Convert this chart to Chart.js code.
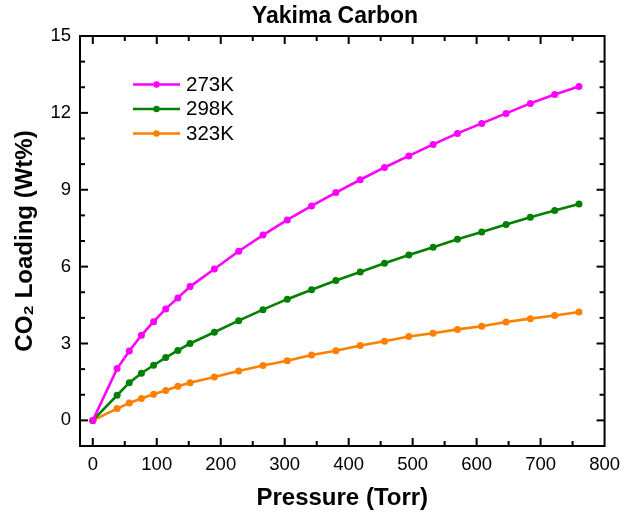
<!DOCTYPE html>
<html>
<head>
<meta charset="utf-8">
<script src="https://cdn.jsdelivr.net/npm/chart.js@4.4.1/dist/chart.umd.min.js"></script>
<style>
html,body{margin:0;padding:0;background:#ffffff;}
#wrap{width:628px;height:515px;}
</style>
</head>
<body>
<div id="wrap"><canvas id="c" width="628" height="515"></canvas></div>
<script>
// ---- data ----
const pressure = [0, 38, 57, 76, 95, 114, 133, 152, 190, 228, 266, 304, 342, 380, 418, 456, 494, 532, 570, 608, 646, 684, 722, 760];
const load273K = [0, 2.02, 2.71, 3.32, 3.85, 4.35, 4.78, 5.22, 5.91, 6.60, 7.23, 7.82, 8.37, 8.89, 9.39, 9.87, 10.32, 10.77, 11.20, 11.59, 11.98, 12.37, 12.72, 13.03];
const load298K = [0, 0.98, 1.47, 1.84, 2.15, 2.45, 2.73, 3.00, 3.44, 3.89, 4.32, 4.73, 5.10, 5.46, 5.79, 6.13, 6.45, 6.76, 7.07, 7.35, 7.64, 7.93, 8.19, 8.44];
const load323K = [0, 0.46, 0.68, 0.85, 1.02, 1.17, 1.33, 1.47, 1.69, 1.93, 2.14, 2.33, 2.55, 2.72, 2.92, 3.09, 3.27, 3.40, 3.55, 3.67, 3.84, 3.97, 4.09, 4.23];
const seriesLabels = ['273K', '298K', '323K'];
const xMajorTicks = [0, 100, 200, 300, 400, 500, 600, 700, 800];
const xMinorTicks = [50, 150, 250, 350, 450, 550, 650, 750];
const yMajorTicks = [0, 3, 6, 9, 12, 15];
const yMinorTicks = [1, 2, 4, 5, 7, 8, 10, 11, 13, 14];
const chartTitle = 'Yakima Carbon';
const xTitle = 'Pressure (Torr)';
const yTitle = 'CO\u2082 Loading (Wt%)';

// ---- styles ----
const FONT = '"Liberation Sans", Arial, Helvetica, sans-serif';
const colors = ['#FF00FF', '#008000', '#FF8000'];

function toPoints(xs, ys) { return xs.map((v, i) => ({ x: v, y: ys[i] })); }
const seriesValues = [load273K, load298K, load323K];

const datasets = seriesValues.map((vals, i) => ({
  label: seriesLabels[i],
  data: toPoints(pressure, vals),
  borderColor: colors[i],
  backgroundColor: colors[i],
  borderWidth: 2.6,
  pointRadius: 3.5,
  pointHoverRadius: 3.5,
  pointBorderWidth: 0,
  tension: 0,
  fill: false
}));

const frameTicksPlugin = {
  id: 'frameTicks',
  afterDraw(chart) {
    const { ctx, chartArea: { left, right, top, bottom }, scales: { x, y } } = chart;
    ctx.save();
    ctx.strokeStyle = '#000';
    ctx.lineWidth = 2;
    ctx.lineCap = 'butt';
    const major = 8, minor = 5;
    const vline = (px, len) => {
      ctx.beginPath(); ctx.moveTo(px, bottom); ctx.lineTo(px, bottom - len); ctx.stroke();
      ctx.beginPath(); ctx.moveTo(px, top); ctx.lineTo(px, top + len); ctx.stroke();
    };
    const hline = (py, len) => {
      ctx.beginPath(); ctx.moveTo(left, py); ctx.lineTo(left + len, py); ctx.stroke();
      ctx.beginPath(); ctx.moveTo(right, py); ctx.lineTo(right - len, py); ctx.stroke();
    };
    xMajorTicks.forEach(v => { const p = x.getPixelForValue(v); if (p > left + 1 && p < right - 1) vline(p, major); });
    xMinorTicks.forEach(v => { const p = x.getPixelForValue(v); if (p > left + 1 && p < right - 1) vline(p, minor); });
    yMajorTicks.forEach(v => { const p = y.getPixelForValue(v); if (p > top + 1 && p < bottom - 1) hline(p, major); });
    yMinorTicks.forEach(v => { const p = y.getPixelForValue(v); if (p > top + 1 && p < bottom - 1) hline(p, minor); });
    ctx.strokeRect(left, top, right - left, bottom - top);

    // title
    ctx.fillStyle = '#000';
    ctx.font = 'bold 23px ' + FONT;
    ctx.textAlign = 'center';
    ctx.textBaseline = 'middle';
    ctx.fillText(chartTitle, 335, 17);

    // legend
    chart.data.datasets.forEach((ds, i) => {
      const ly = 84.5 + i * 24.5;
      ctx.strokeStyle = ds.borderColor;
      ctx.lineWidth = 2.5;
      ctx.beginPath(); ctx.moveTo(133, ly); ctx.lineTo(180, ly); ctx.stroke();
      ctx.fillStyle = ds.backgroundColor;
      ctx.beginPath(); ctx.arc(156.5, ly, 3.2, 0, Math.PI * 2); ctx.fill();
      ctx.fillStyle = '#000';
      ctx.font = '20.5px ' + FONT;
      ctx.textAlign = 'left';
      ctx.textBaseline = 'middle';
      ctx.fillText(ds.label, 186, ly + 0.5);
    });
    ctx.restore();
  }
};

new Chart(document.getElementById('c'), {
  type: 'line',
  data: { datasets },
  options: {
    responsive: false,
    devicePixelRatio: 1,
    animation: false,
    events: [],
    layout: { padding: { top: 36, right: 20, left: 0, bottom: 0 } },
    plugins: { legend: { display: false }, title: { display: false }, tooltip: { enabled: false } },
    scales: {
      x: {
        type: 'linear',
        min: -20,
        max: 800,
        afterBuildTicks: s => { s.ticks = xMajorTicks.map(v => ({ value: v })); },
        afterFit: s => { s.height = 69; },
        grid: { display: false, drawTicks: false },
        border: { display: false },
        ticks: { color: '#000', font: { family: FONT, size: 18.5 }, padding: 8, maxRotation: 0, autoSkip: false },
        title: { display: true, text: xTitle, color: '#000', font: { family: FONT, size: 24, weight: 'bold' }, padding: { top: 0, bottom: 2 } }
      },
      y: {
        type: 'linear',
        min: -1,
        max: 15,
        afterBuildTicks: s => { s.ticks = yMajorTicks.map(v => ({ value: v })); },
        afterFit: s => { s.width = 80; },
        grid: { display: false, drawTicks: false },
        border: { display: false },
        ticks: { color: '#000', font: { family: FONT, size: 18.5 }, padding: 9, autoSkip: false },
        title: { display: true, text: yTitle, color: '#000', font: { family: FONT, size: 24, weight: 'bold' }, padding: { top: 11, bottom: 0 } }
      }
    }
  },
  plugins: [frameTicksPlugin]
});
</script>
</body>
</html>
